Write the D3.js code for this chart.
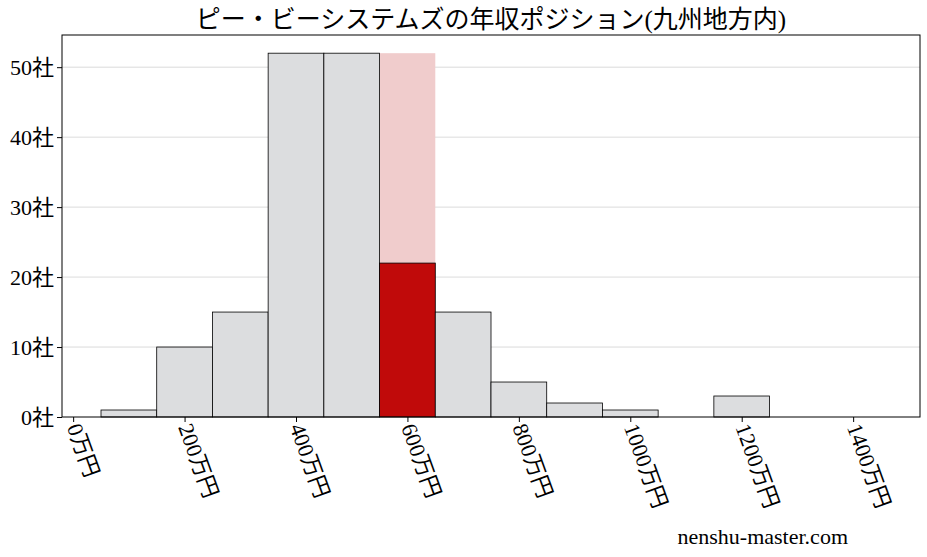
<!DOCTYPE html><html><head><meta charset="utf-8"><script src="https://cdn.jsdelivr.net/npm/d3@7"></script>
<style>body{margin:0;background:#fff}text{font-family:"Liberation Serif","Noto Sans CJK JP",serif}</style></head><body>
<script>
const binStarts=[50,150,250,350,450,550,650,750,850,950,1150];
const counts=[1,10,15,52,52,22,15,5,2,1,3];
const highlightStart=550, highlightBg=52;
const xTicks=[0,200,400,600,800,1000,1200,1400];
const yTicks=[0,10,20,30,40,50];
const W=927,H=557,m={l:62,r:7,t:35,b:140};
const svg=d3.select("body").append("svg").attr("width",W).attr("height",H);
const x=d3.scaleLinear().domain([-20,1520]).range([m.l,W-m.r]);
const y=d3.scaleLinear().domain([0,54.6]).range([H-m.b,m.t]);
svg.append("g").selectAll("line").data(yTicks.slice(1)).join("line")
 .attr("x1",m.l).attr("x2",W-m.r).attr("y1",d=>y(d)).attr("y2",d=>y(d)).attr("stroke","#ccc").attr("stroke-width",0.7);
svg.append("rect").attr("x",x(highlightStart)).attr("width",x(highlightStart+100)-x(highlightStart))
 .attr("y",y(highlightBg)).attr("height",y(0)-y(highlightBg)).attr("fill","#f0cccc");
svg.append("g").selectAll("rect").data(binStarts).join("rect")
 .attr("x",d=>x(d)).attr("width",d=>x(d+100)-x(d)).attr("y",(d,i)=>y(counts[i])).attr("height",(d,i)=>y(0)-y(counts[i]))
 .attr("fill",d=>d===highlightStart?"#c00a0a":"#dcdddf").attr("stroke","#000").attr("stroke-width",0.8);
svg.append("rect").attr("x",m.l).attr("y",m.t).attr("width",W-m.r-m.l).attr("height",H-m.b-m.t).attr("fill","none").attr("stroke","#000");
const gx=svg.append("g").attr("transform",`translate(0,${H-m.b})`).call(d3.axisBottom(x).tickValues(xTicks).tickSize(5).tickFormat(d=>d+"万円"));
gx.select(".domain").remove();
gx.selectAll("text").attr("font-size",22).attr("fill","#000").attr("text-anchor","start").attr("dy",0).attr("y",0)
 .attr("transform","translate(-7,10) rotate(70)");
const gy=svg.append("g").attr("transform",`translate(${m.l},0)`).call(d3.axisLeft(y).tickValues(yTicks).tickSize(5).tickFormat(d=>d+"社"));
gy.select(".domain").remove();
gy.selectAll("text").attr("font-size",22).attr("fill","#000");
svg.append("text").attr("x",491).attr("y",28).attr("text-anchor","middle").attr("font-size",25).text("ピー・ビーシステムズの年収ポジション(九州地方内)");
svg.append("text").attr("x",848).attr("y",544).attr("text-anchor","end").attr("font-size",22).text("nenshu-master.com");
</script></body></html>
